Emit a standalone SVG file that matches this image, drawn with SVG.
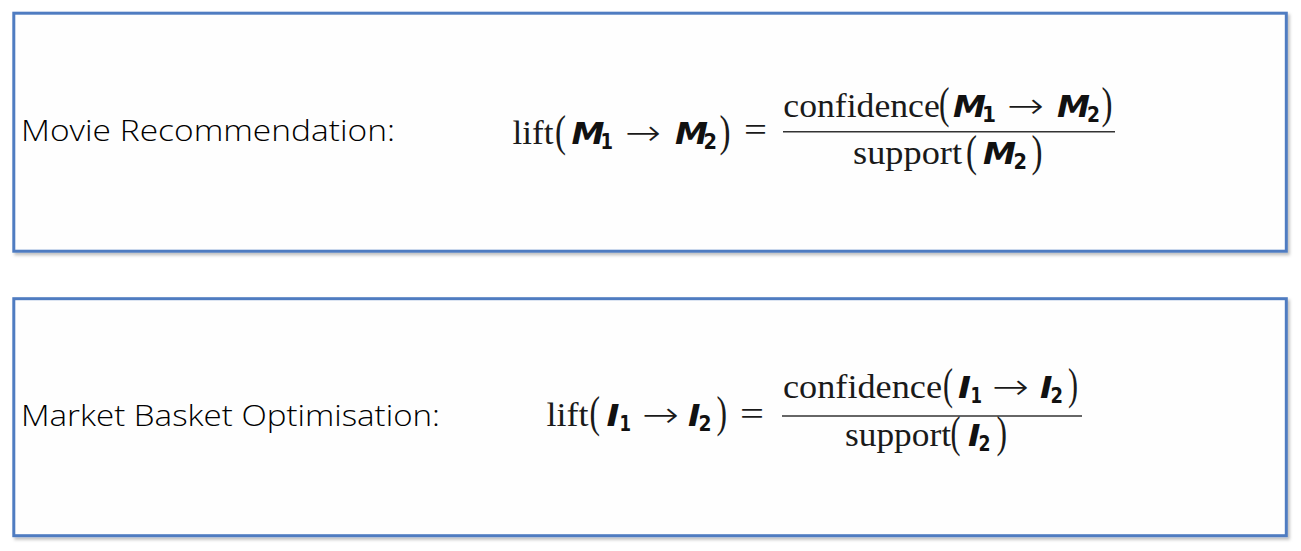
<svg xmlns="http://www.w3.org/2000/svg" width="1301" height="551" viewBox="0 0 1301 551">
<style>
.box{fill:#fefefe;stroke:#4f7cc1;stroke-width:3}
.lbl{font-family:"Open Sans","Liberation Sans",sans-serif;font-size:30px;font-weight:300;fill:#000}
.rm{font-family:"Liberation Serif","DejaVu Serif",serif;font-size:34px;fill:#1a1a1a}
.par{font-family:"Liberation Serif","DejaVu Serif",serif;font-size:44px;fill:#1a1a1a}
.var{font-family:"DejaVu Sans","Liberation Sans",sans-serif;font-size:31px;font-weight:bold;font-style:italic;fill:#111}
.sub{font-family:"DejaVu Sans","Liberation Sans",sans-serif;font-size:22px;font-weight:bold;fill:#111}
.arr{font-family:"DejaVu Sans","Liberation Sans",sans-serif;font-size:36px;font-weight:200;fill:#1a1a1a}
.frac{stroke:#333;stroke-width:1.6}
</style>
<defs>
<filter id="sh" x="-5%" y="-5%" width="110%" height="115%">
<feDropShadow dx="2" dy="2.5" stdDeviation="1.5" flood-color="#000" flood-opacity="0.25"/>
</filter>
</defs>
<rect width="1301" height="551" fill="#ffffff"/>

<g id="node-movie">
<rect class="box" x="13.8" y="13.2" width="1272.5" height="238" filter="url(#sh)"/>
<text class="lbl" x="21" y="140.5" textLength="374" lengthAdjust="spacingAndGlyphs">Movie Recommendation:</text>
<g id="formula-movie">
<text class="rm" x="512.5" y="144" textLength="41" lengthAdjust="spacingAndGlyphs">lift</text>
<text class="par" x="555" y="145.5" textLength="11" lengthAdjust="spacingAndGlyphs">(</text>
<text class="var" x="571.5" y="144" textLength="33" lengthAdjust="spacingAndGlyphs">M</text>
<text class="sub" x="600.5" y="149" textLength="12.5" lengthAdjust="spacingAndGlyphs">1</text>
<text class="arr" x="625" y="145" textLength="36" lengthAdjust="spacingAndGlyphs">→</text>
<text class="var" x="675" y="144" textLength="33" lengthAdjust="spacingAndGlyphs">M</text>
<text class="sub" x="703.5" y="149" textLength="13.5" lengthAdjust="spacingAndGlyphs">2</text>
<text class="par" x="719.5" y="145.5" textLength="11" lengthAdjust="spacingAndGlyphs">)</text>
<text class="rm" x="744" y="141" textLength="23" lengthAdjust="spacingAndGlyphs">=</text>
<text class="rm" x="783.3" y="116.7" textLength="156.5" lengthAdjust="spacingAndGlyphs">confidence</text>
<text class="par" x="939" y="118" textLength="10.5" lengthAdjust="spacingAndGlyphs">(</text>
<text class="var" x="953" y="117" textLength="33" lengthAdjust="spacingAndGlyphs">M</text>
<text class="sub" x="982" y="122" textLength="14" lengthAdjust="spacingAndGlyphs">1</text>
<text class="arr" x="1007" y="117.5" textLength="37" lengthAdjust="spacingAndGlyphs">→</text>
<text class="var" x="1057" y="117" textLength="33" lengthAdjust="spacingAndGlyphs">M</text>
<text class="sub" x="1087" y="122" textLength="13" lengthAdjust="spacingAndGlyphs">2</text>
<text class="par" x="1101.5" y="118" textLength="11" lengthAdjust="spacingAndGlyphs">)</text>
<line class="frac" x1="783" y1="131.7" x2="1115" y2="131.7"/>
<text class="rm" x="853" y="163.5" textLength="109" lengthAdjust="spacingAndGlyphs">support</text>
<text class="par" x="966" y="165.5" textLength="11" lengthAdjust="spacingAndGlyphs">(</text>
<text class="var" x="983" y="164" textLength="33" lengthAdjust="spacingAndGlyphs">M</text>
<text class="sub" x="1013.5" y="169" textLength="13.5" lengthAdjust="spacingAndGlyphs">2</text>
<text class="par" x="1031.5" y="165.5" textLength="11" lengthAdjust="spacingAndGlyphs">)</text>
</g>
</g>

<g id="node-market">
<rect class="box" x="13.8" y="298.7" width="1272.5" height="237" filter="url(#sh)"/>
<text class="lbl" x="21" y="425.7" textLength="419" lengthAdjust="spacingAndGlyphs">Market Basket Optimisation:</text>
<g id="formula-market">
<text class="rm" x="546.5" y="425.5" textLength="42" lengthAdjust="spacingAndGlyphs">lift</text>
<text class="par" x="589.5" y="427" textLength="10.5" lengthAdjust="spacingAndGlyphs">(</text>
<text class="var" x="606.5" y="425.5" textLength="13" lengthAdjust="spacingAndGlyphs">I</text>
<text class="sub" x="619.5" y="430.5" textLength="11.5" lengthAdjust="spacingAndGlyphs">1</text>
<text class="arr" x="642" y="426.5" textLength="37" lengthAdjust="spacingAndGlyphs">→</text>
<text class="var" x="688" y="425.5" textLength="12.5" lengthAdjust="spacingAndGlyphs">I</text>
<text class="sub" x="698.5" y="430.5" textLength="13" lengthAdjust="spacingAndGlyphs">2</text>
<text class="par" x="716.5" y="427" textLength="10.5" lengthAdjust="spacingAndGlyphs">)</text>
<text class="rm" x="740" y="425" textLength="24" lengthAdjust="spacingAndGlyphs">=</text>
<text class="rm" x="783" y="397.5" textLength="159" lengthAdjust="spacingAndGlyphs">confidence</text>
<text class="par" x="943" y="399" textLength="10" lengthAdjust="spacingAndGlyphs">(</text>
<text class="var" x="958" y="397.5" textLength="13" lengthAdjust="spacingAndGlyphs">I</text>
<text class="sub" x="970.5" y="402.5" textLength="11.5" lengthAdjust="spacingAndGlyphs">1</text>
<text class="arr" x="992" y="398.5" textLength="37" lengthAdjust="spacingAndGlyphs">→</text>
<text class="var" x="1040" y="397.5" textLength="12.5" lengthAdjust="spacingAndGlyphs">I</text>
<text class="sub" x="1050.5" y="402.5" textLength="12.5" lengthAdjust="spacingAndGlyphs">2</text>
<text class="par" x="1068" y="399" textLength="10" lengthAdjust="spacingAndGlyphs">)</text>
<line class="frac" x1="782" y1="416" x2="1082" y2="416"/>
<text class="rm" x="845" y="445.5" textLength="106" lengthAdjust="spacingAndGlyphs">support</text>
<text class="par" x="950.5" y="447" textLength="10" lengthAdjust="spacingAndGlyphs">(</text>
<text class="var" x="968" y="445.5" textLength="12.5" lengthAdjust="spacingAndGlyphs">I</text>
<text class="sub" x="978.5" y="450.5" textLength="12" lengthAdjust="spacingAndGlyphs">2</text>
<text class="par" x="996.5" y="447" textLength="10.5" lengthAdjust="spacingAndGlyphs">)</text>
</g>
</g>

<g id="connectors"></g>
</svg>
